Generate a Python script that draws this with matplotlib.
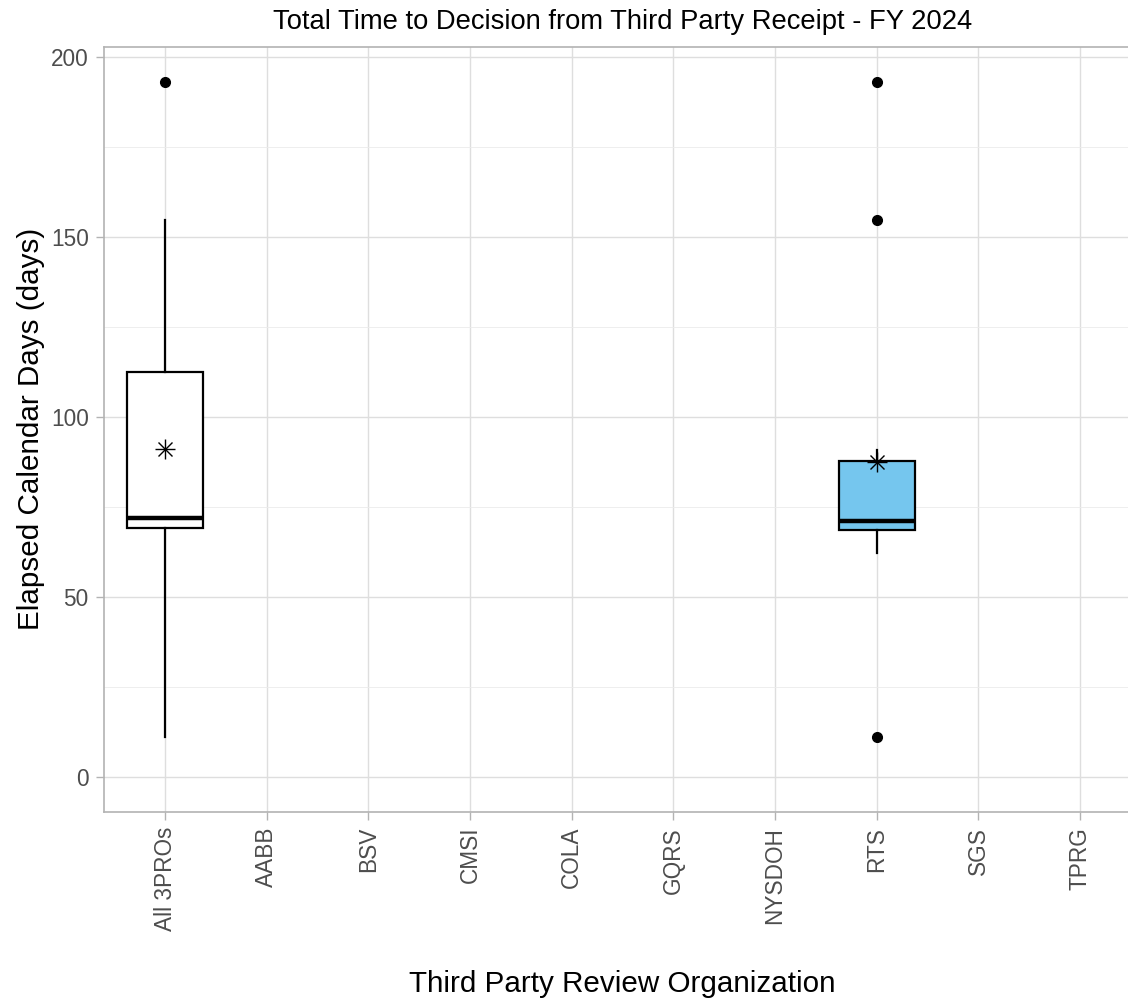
import matplotlib
matplotlib.use("Agg")
import matplotlib.pyplot as plt

# categories and box statistics
orgs = ["All 3PROs", "AABB", "BSV", "CMSI", "COLA", "GQRS", "NYSDOH", "RTS", "SGS", "TPRG"]
box_orgs = ["All 3PROs", "RTS"]
whisker_low = [11.0, 62.1]
q1 = [69.2, 68.7]
median = [72.1, 71.2]
q3 = [112.6, 87.9]
whisker_high = [154.8, 90.9]
means = [91.2, 87.5]
outliers = [[193.2], [11.0, 154.8, 193.2]]
fills = ["white", "#75C6EE"]

plt.rcParams["font.family"] = ["Liberation Sans", "DejaVu Sans"]

fig = plt.figure(figsize=(11.28, 10.06), dpi=100)
W, H = 1128, 1006
left, right, top, bottom = 104, 1141, 47, 811.7
ax = fig.add_axes([left / W, 1 - bottom / H, (right - left) / W, (bottom - top) / H])

positions = [orgs.index(o) + 1 for o in box_orgs]
stats = []
for i, name in enumerate(box_orgs):
    stats.append(dict(label=name, whislo=whisker_low[i], q1=q1[i], med=median[i],
                      q3=q3[i], whishi=whisker_high[i], fliers=outliers[i], mean=means[i]))

bp = ax.bxp(stats, positions=positions, widths=0.75, patch_artist=True,
            showcaps=False, showmeans=False, zorder=3,
            boxprops=dict(edgecolor="black", linewidth=1.6),
            medianprops=dict(color="black", linewidth=3.2),
            whiskerprops=dict(color="black", linewidth=1.6),
            flierprops=dict(marker="o", markerfacecolor="black", markeredgecolor="black",
                            markersize=7))
for patch, c in zip(bp["boxes"], fills):
    patch.set_facecolor(c)

# mean shown as R's shape 8 (plus + cross)
ax.plot(positions, means, linestyle="none", marker="+", color="black", markersize=14,
        markeredgewidth=1, zorder=4)
ax.plot(positions, means, linestyle="none", marker="x", color="black", markersize=10,
        markeredgewidth=1, zorder=4)

lo, hi = 0, max(max(o) for o in outliers)
pad = 0.05 * (hi - lo)
ax.set_ylim(lo - pad, hi + pad)
ax.set_xlim(0.4, len(orgs) + 0.6)

ax.set_xticks(range(1, len(orgs) + 1))
ax.set_xticklabels(orgs, rotation=90, fontsize=16.3, color="#4D4D4D")
ax.set_yticks([0, 50, 100, 150, 200])
ax.set_yticks([25, 75, 125, 175], minor=True)
ax.tick_params(axis="y", which="major", labelsize=16.3, labelcolor="#4D4D4D")
ax.tick_params(axis="both", which="major", length=6, width=1, color="#B3B3B3", pad=5)
ax.tick_params(axis="y", which="minor", length=0)

ax.grid(True, which="major", color="#DEDEDE", linewidth=1, zorder=0)
ax.grid(True, which="minor", axis="y", color="#EBEBEB", linewidth=0.6, zorder=0)
ax.set_axisbelow(True)
for s in ax.spines.values():
    s.set_color("#B3B3B3")
    s.set_linewidth(1.2)

ax.set_xlabel("Third Party Review Organization", fontsize=21.3, labelpad=28)
ax.set_ylabel("Elapsed Calendar Days (days)", fontsize=21.3, labelpad=4)
ax.set_title("Total Time to Decision from Third Party Receipt - FY 2024", fontsize=19.7, pad=13)

fig.savefig("out.png", dpi=100)
